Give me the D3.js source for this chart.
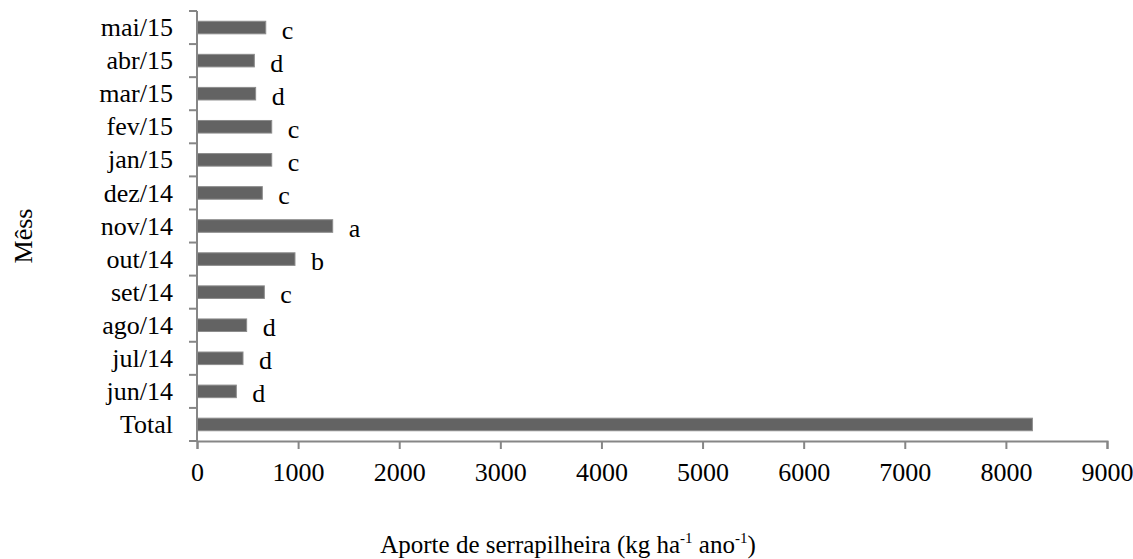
<!DOCTYPE html>
<html>
<head>
<meta charset="utf-8">
<script src="https://cdn.jsdelivr.net/npm/d3@7"></script>
<style>
  body { margin: 0; background: #fff; }
  svg { display: block; font-family: "Liberation Serif", "Times New Roman", serif; }
</style>
</head>
<body>
<svg id="chart"></svg>
<script>
// dados (kg ha-1 ano-1), de baixo para cima
const meses = ["Total", "jun/14", "jul/14", "ago/14", "set/14", "out/14", "nov/14",
  "dez/14", "jan/15", "fev/15", "mar/15", "abr/15", "mai/15"];
const aporte = [8262, 389, 455, 491, 666, 969, 1342, 646, 739, 739, 580, 567, 680];
const letras = ["", "d", "d", "d", "c", "b", "a", "c", "c", "c", "d", "d", "c"];
const xTicks = [0, 1000, 2000, 3000, 4000, 5000, 6000, 7000, 8000, 9000];

const W = 1133, H = 559;
const margin = { top: 11, right: 26, bottom: 118, left: 197 };
const width = W - margin.left - margin.right;
const height = H - margin.top - margin.bottom;
const axisColor = "#868686";
const fs = 26;

const svg = d3.select("#chart")
  .attr("width", W)
  .attr("height", H);

const g = svg.append("g")
  .attr("transform", "translate(" + margin.left + "," + margin.top + ")");

const x = d3.scaleLinear()
  .domain([0, 9000])
  .range([0, width]);

// Total fica embaixo
const y = d3.scaleBand()
  .domain(meses.slice().reverse())
  .range([0, height])
  .paddingInner(0.62)
  .paddingOuter(0.31);

const data = meses.map((m, i) => ({ mes: m, valor: aporte[i], letra: letras[i] }));

// barras
g.selectAll(".bar")
  .data(data)
  .enter().append("rect")
  .attr("class", "bar")
  .attr("x", x(0))
  .attr("y", d => y(d.mes))
  .attr("width", d => x(d.valor))
  .attr("height", y.bandwidth())
  .attr("fill", "#636363")
  .attr("stroke", "#8c8c8c")
  .attr("stroke-width", 1);

// letras (teste de médias)
g.selectAll(".letra")
  .data(data.filter(d => d.letra))
  .enter().append("text")
  .attr("class", "letra")
  .attr("x", d => x(d.valor) + 16)
  .attr("y", d => y(d.mes) + y.bandwidth() / 2 + 11)
  .attr("font-size", fs)
  .attr("fill", "#000")
  .text(d => d.letra);

// eixo x
const xAxis = g.append("g")
  .attr("transform", "translate(0," + height + ")")
  .call(d3.axisBottom(x).tickValues(xTicks).tickSize(8).tickPadding(14).tickFormat(d3.format("d")));
xAxis.select(".domain").attr("stroke", axisColor).attr("stroke-width", 2);
xAxis.selectAll(".tick line").attr("stroke", axisColor).attr("stroke-width", 2);
xAxis.selectAll(".tick text")
  .attr("font-size", fs)
  .attr("font-family", "Liberation Serif, Times New Roman, serif")
  .attr("fill", "#000");

// eixo y: marcas nos limites das categorias
const step = y.step();
const limites = d3.range(meses.length + 1).map(i => i * step);
const yAxis = g.append("g");
yAxis.append("line")
  .attr("x1", 0).attr("x2", 0)
  .attr("y1", 0).attr("y2", height)
  .attr("stroke", axisColor).attr("stroke-width", 2);
yAxis.selectAll(".yt")
  .data(limites)
  .enter().append("line")
  .attr("class", "yt")
  .attr("x1", -8).attr("x2", 0)
  .attr("y1", d => d).attr("y2", d => d)
  .attr("stroke", axisColor).attr("stroke-width", 2);
yAxis.selectAll(".ylab")
  .data(meses)
  .enter().append("text")
  .attr("class", "ylab")
  .attr("x", -24)
  .attr("y", d => y(d) + y.bandwidth() / 2)
  .attr("dy", "0.33em")
  .attr("text-anchor", "end")
  .attr("font-size", fs)
  .attr("fill", "#000")
  .text(d => d);

// títulos
const tx = svg.append("text")
  .attr("x", 568)
  .attr("y", 553)
  .attr("text-anchor", "middle")
  .attr("font-size", 25)
  .attr("fill", "#000");
tx.append("tspan").text("Aporte de serrapilheira (kg ha");
tx.append("tspan").attr("font-size", 15).attr("dy", -10).text("-1");
tx.append("tspan").attr("dy", 10).text(" ano");
tx.append("tspan").attr("font-size", 15).attr("dy", -10).text("-1");
tx.append("tspan").attr("dy", 10).text(")");

svg.append("text")
  .attr("transform", "translate(32,236) rotate(-90)")
  .attr("text-anchor", "middle")
  .attr("font-size", fs)
  .attr("fill", "#000")
  .text("Mêss");
</script>
</body>
</html>
